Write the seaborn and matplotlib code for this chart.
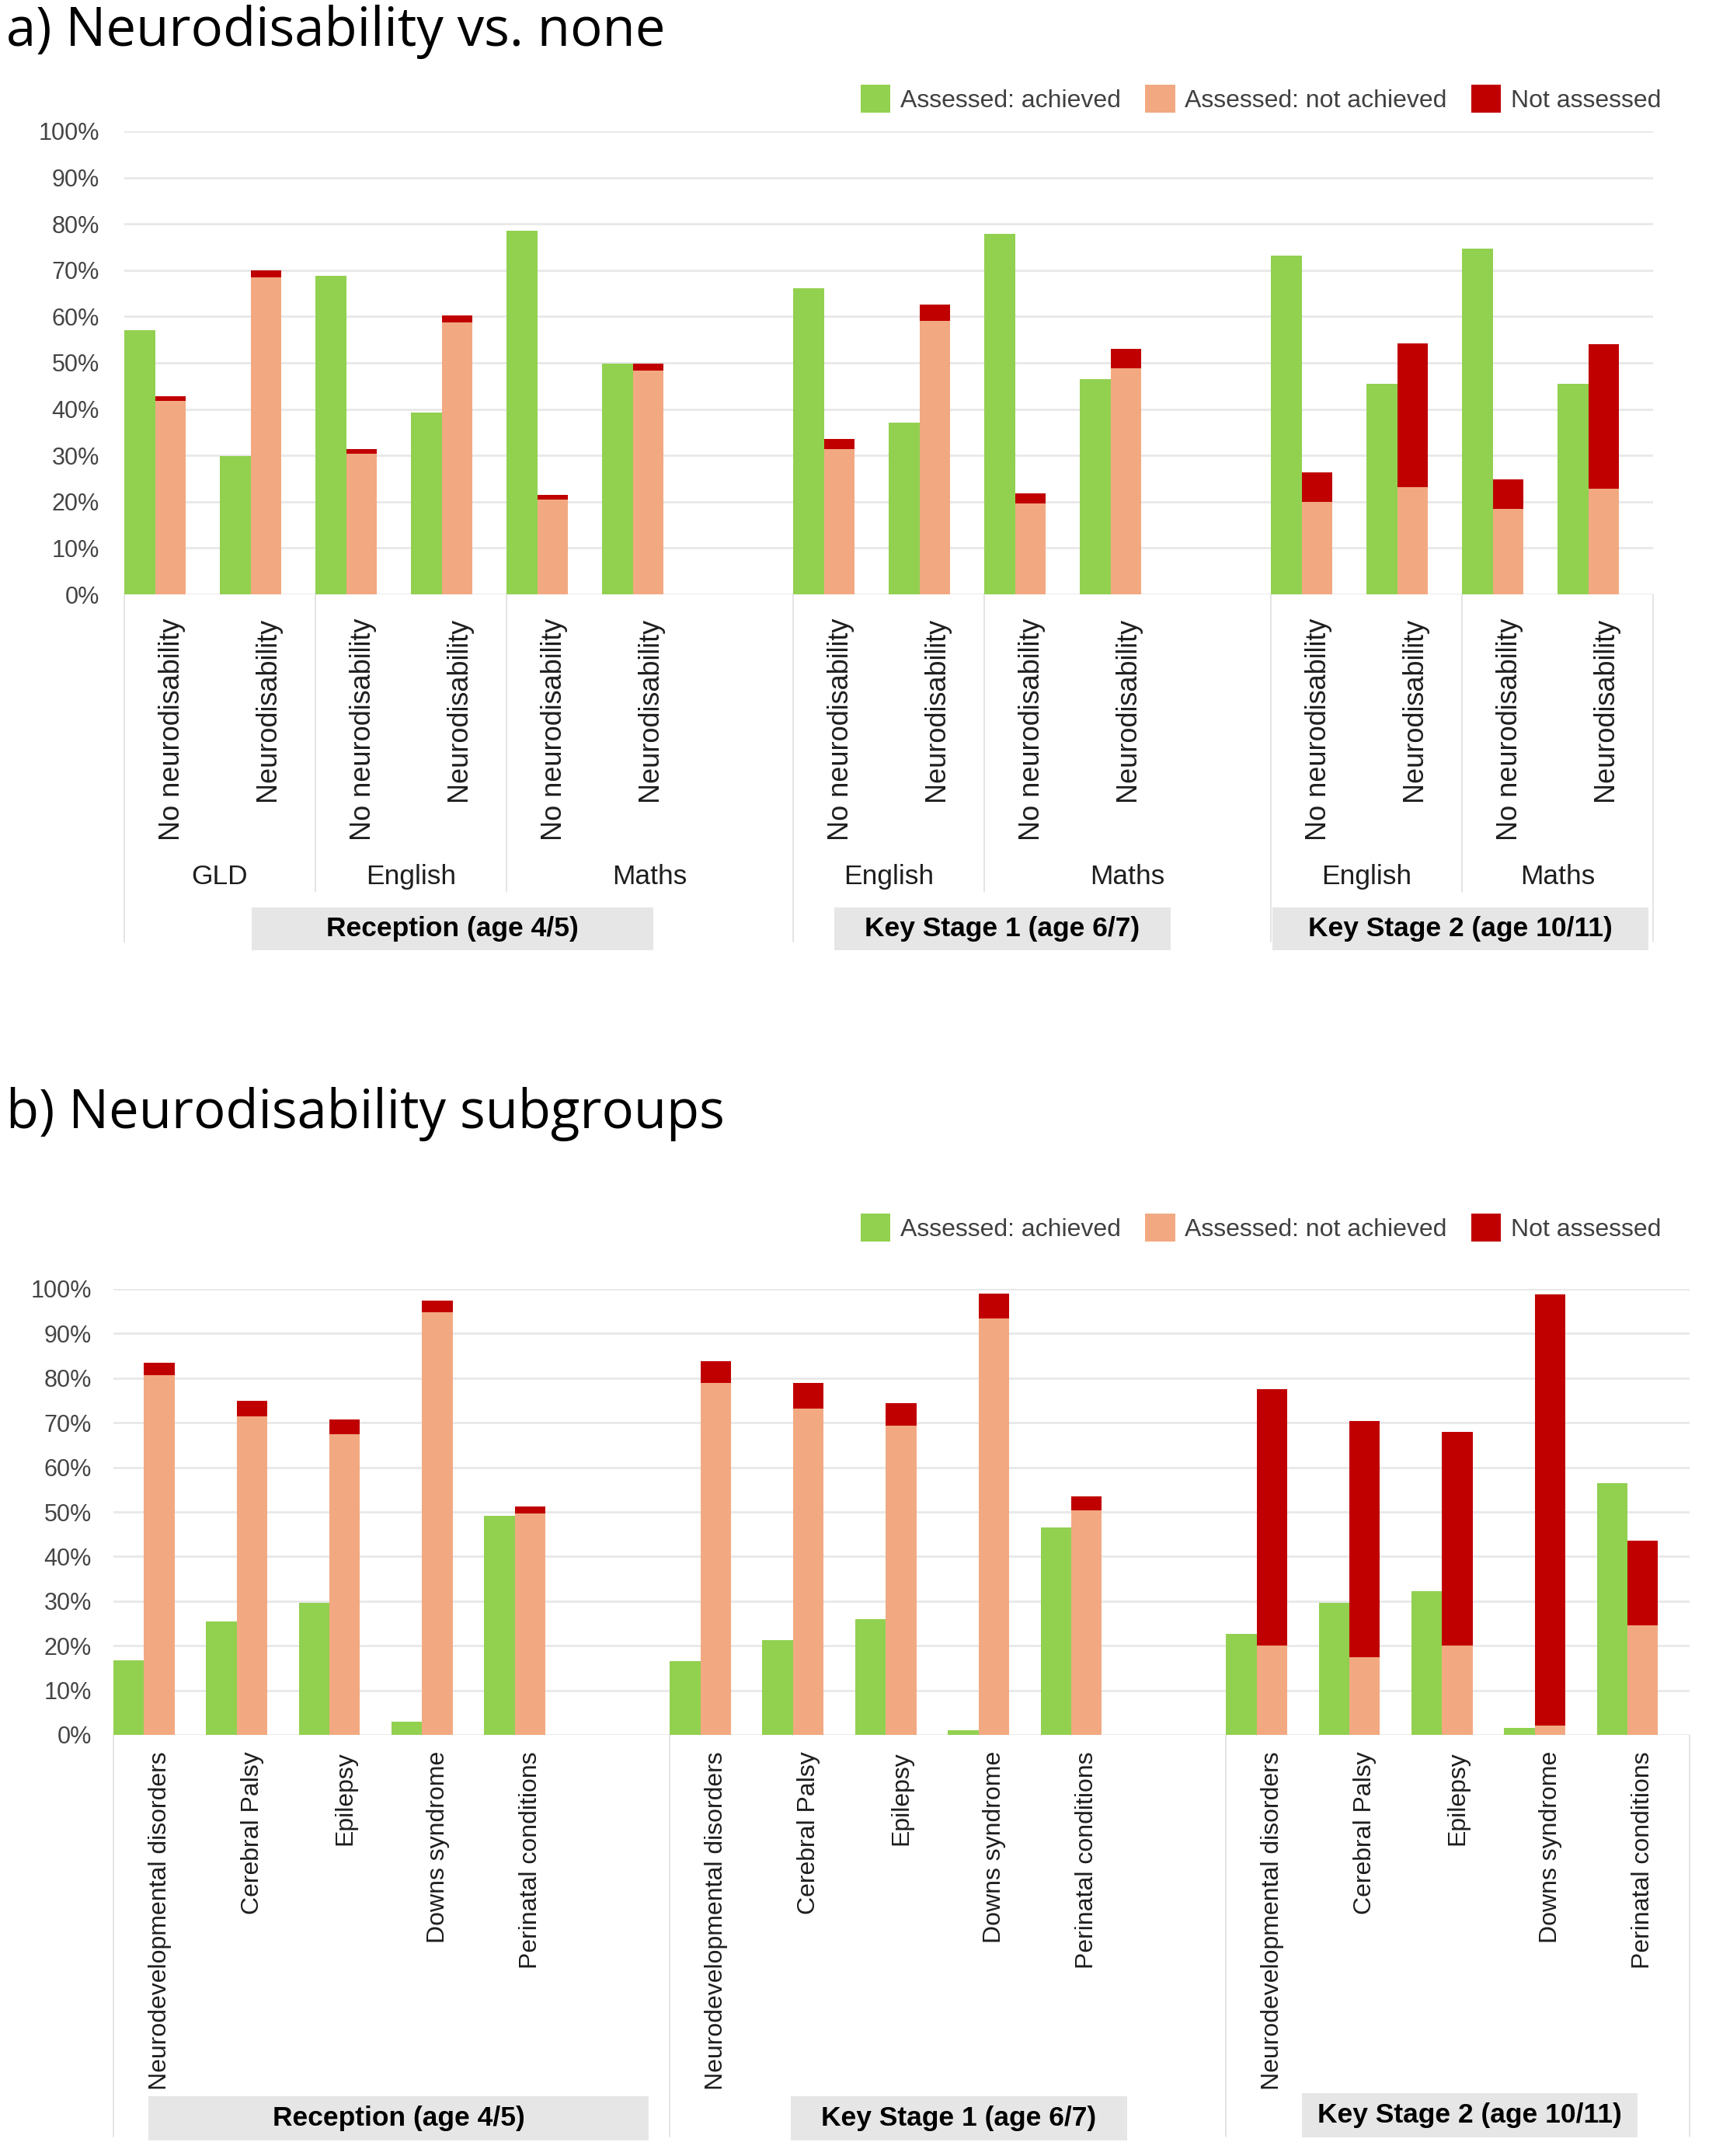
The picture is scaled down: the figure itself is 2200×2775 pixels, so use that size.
import numpy as np
import pandas as pd
import matplotlib
matplotlib.use("Agg")
import matplotlib.pyplot as plt
import seaborn as sns
from matplotlib.patches import Patch, Rectangle
from matplotlib.transforms import blended_transform_factory

# ---------------- data ----------------
stages = ["Reception (age 4/5)", "Key Stage 1 (age 6/7)", "Key Stage 2 (age 10/11)"]
series_names = ["Assessed: achieved", "Assessed: not achieved", "Not assessed"]

# panel a
subjects_a = [["GLD", "English", "Maths"], ["English", "Maths"], ["English", "Maths"]]
groups_a = ["No neurodisability", "Neurodisability"]
achieved_a = [57.1, 29.8, 68.8, 39.2, 78.5, 49.8, 66.1, 37.1, 77.9, 46.5, 73.1, 45.4, 74.7, 45.5]
not_achieved_a = [41.8, 68.5, 30.4, 58.8, 20.4, 48.4, 31.4, 59.1, 19.7, 48.8, 19.9, 23.1, 18.5, 22.9]
not_assessed_a = [1.0, 1.5, 0.9, 1.5, 1.0, 1.5, 2.2, 3.5, 2.1, 4.2, 6.5, 31.1, 6.4, 31.1]

# panel b
subgroups_b = ["Neurodevelopmental disorders", "Cerebral Palsy", "Epilepsy",
               "Downs syndrome", "Perinatal conditions"]
achieved_b = [16.8, 25.5, 29.7, 2.9, 49.2, 16.6, 21.3, 26.0, 1.1, 46.6, 22.6, 29.7, 32.2, 1.5, 56.4]
not_achieved_b = [80.7, 71.4, 67.4, 94.7, 49.6, 78.9, 73.1, 69.3, 93.3, 50.4, 20.0, 17.5, 20.0, 2.1, 24.6]
not_assessed_b = [2.8, 3.5, 3.3, 2.6, 1.6, 4.9, 5.8, 5.1, 5.7, 3.1, 57.5, 52.9, 47.9, 96.6, 18.9]

yticks = list(range(0, 101, 10))

# ---------------- style ----------------
GREEN = "#92D050"
ORANGE = "#F2A982"
RED = "#C00000"
GRID = "#E8E8E8"
SEP = "#E2E2E2"
BOXC = "#E7E6E6"

sns.set_theme(style="white")
plt.rcParams['font.family'] = ['Liberation Sans', 'DejaVu Sans']

W, H = 2200, 2775
DPI = 100
fig = plt.figure(figsize=(W / DPI, H / DPI), dpi=DPI)


def fy(px):
    return 1 - px / H


def ax_rect(left, right, top, bottom):
    return [left / W, 1 - bottom / H, (right - left) / W, (bottom - top) / H]


def build_slots(counts):
    slots, starts, start = [], [], 0
    for n in counts:
        starts.append(start)
        slots.extend(range(start, start + n))
        start += n + 1
    total = start - 1
    return slots, starts, total


def draw_bars(ax, slots, ach, nach, nass, bw):
    df = pd.DataFrame({"slot": slots, "achieved": ach,
                       "not_achieved": nach, "not_assessed": nass})
    df["x_ach"] = df["slot"] + bw / 2
    df["x_stack"] = df["slot"] + bw * 1.5
    df["stack_top"] = df["not_achieved"] + df["not_assessed"]
    kw = dict(native_scale=True, width=bw, saturation=1, errorbar=None,
              linewidth=0, orient="x", ax=ax)
    sns.barplot(data=df, x="x_ach", y="achieved", color=GREEN, **kw)
    sns.barplot(data=df, x="x_stack", y="stack_top", color=RED, **kw)
    sns.barplot(data=df, x="x_stack", y="not_achieved", color=ORANGE, **kw)


def style_axis(ax, total, tick_pad_px):
    ax.set_xlim(0, total)
    ax.set_ylim(0, 100)
    ax.set_yticks(yticks)
    ax.set_yticklabels([f"{v}%" for v in yticks])
    ax.set_xticks([])
    ax.set_xlabel("")
    ax.set_ylabel("")
    for s in ax.spines.values():
        s.set_visible(False)
    ax.yaxis.grid(True, color=GRID, lw=2.0)
    ax.xaxis.grid(False)
    ax.set_axisbelow(True)
    ax.tick_params(axis="y", length=0, pad=tick_pad_px * 72 / DPI,
                   labelsize=22, labelcolor="#454545")


def vline(ax, x, y0, y1):
    tr = blended_transform_factory(ax.transData, fig.transFigure)
    ax.plot([x, x], [fy(y0), fy(y1)], color=SEP, lw=1.3, transform=tr,
            clip_on=False, zorder=0)


def stage_box(ax, x0, x1, y0, y1, text):
    tr = blended_transform_factory(ax.transData, fig.transFigure)
    ax.add_patch(Rectangle((x0, fy(y1)), x1 - x0, fy(y0) - fy(y1), transform=tr,
                           facecolor=BOXC, edgecolor="none", clip_on=False))
    ax.text((x0 + x1) / 2, fy((y0 + y1) / 2), text, transform=tr, ha="center",
            va="center", fontsize=25.5, fontweight="bold", color="#000000")


def legend(ax, ycenter):
    handles = [Patch(facecolor=c, edgecolor="none") for c in (GREEN, ORANGE, RED)]
    ax.legend(handles, series_names, loc="center right",
              bbox_to_anchor=(2138 / W, fy(ycenter)), bbox_transform=fig.transFigure,
              ncol=3, frameon=False, fontsize=23, handlelength=1.2, handleheight=1.4,
              handletextpad=0.38, columnspacing=1.0, borderpad=0, borderaxespad=0,
              labelcolor="#404040")


def fit_title(x_px, base_px, text, target_w):
    t = fig.text(x_px / W, fy(base_px), text, ha="left", va="baseline",
                 fontsize=43, color="#000000", family=["Open Sans", "DejaVu Sans"])
    fig.canvas.draw()
    bb = t.get_window_extent(renderer=fig.canvas.get_renderer())
    t.set_fontsize(43 * target_w / bb.width)
    return t


# ---------------- panel a ----------------
ax_a = fig.add_axes(ax_rect(160, 2128, 169, 765))
counts_a = [len(s) * len(groups_a) for s in subjects_a]
slots_a, starts_a, total_a = build_slots(counts_a)
draw_bars(ax_a, slots_a, achieved_a, not_achieved_a, not_assessed_a, 0.322)
style_axis(ax_a, total_a, 32)
tr_a = blended_transform_factory(ax_a.transData, fig.transFigure)

k = 0
for si, subs in enumerate(subjects_a):
    st = starts_a[si]
    stage_end = starts_a[si + 1] if si + 1 < len(starts_a) else total_a
    for j, subj in enumerate(subs):
        s0 = st + 2 * j
        s1 = s0 + 2 if j < len(subs) - 1 else stage_end
        for g in groups_a:
            ax_a.text(slots_a[k] + 0.5, fy(795), g, transform=tr_a, rotation=90,
                      ha="center", va="top", fontsize=26, color="#1e1e1e")
            k += 1
        ax_a.text((s0 + s1) / 2, fy(1128), subj, transform=tr_a, ha="center",
                  va="center", fontsize=25.5, color="#1e1e1e")
        if j > 0:
            vline(ax_a, s0, 765, 1148)
for b in starts_a + [total_a]:
    vline(ax_a, b, 765, 1212)

boxes_a = [(1.33, 5.54), (7.43, 10.95), (12.02, 15.95)]
for (x0, x1), name in zip(boxes_a, stages):
    stage_box(ax_a, x0, x1, 1168, 1223, name)
legend(ax_a, 127)

# ---------------- panel b ----------------
ax_b = fig.add_axes(ax_rect(146, 2175, 1659, 2233))
counts_b = [len(subgroups_b)] * len(stages)
slots_b, starts_b, total_b = build_slots(counts_b)
draw_bars(ax_b, slots_b, achieved_b, not_achieved_b, not_assessed_b, 0.33)
style_axis(ax_b, total_b, 28)
tr_b = blended_transform_factory(ax_b.transData, fig.transFigure)

k = 0
for si in range(len(stages)):
    for g in subgroups_b:
        ax_b.text(slots_b[k] + 0.5, fy(2254), g, transform=tr_b, rotation=90,
                  ha="center", va="top", fontsize=23, color="#1e1e1e")
        k += 1
for b in starts_b + [total_b]:
    vline(ax_b, b, 2233, 2750)

boxes_b = [(0.38, 5.77, 2698, 2755), (7.31, 10.93, 2698, 2755), (12.82, 16.44, 2694, 2751)]
for (x0, x1, y0, y1), name in zip(boxes_b, stages):
    stage_box(ax_b, x0, x1, y0, y1, name)
legend(ax_b, 1580)

# ---------------- titles ----------------
fit_title(8, 59, "a) Neurodisability vs. none", 850)
fit_title(8, 1452, "b) Neurodisability subgroups", 926)

fig.savefig("out.png", dpi=DPI, facecolor="white")
